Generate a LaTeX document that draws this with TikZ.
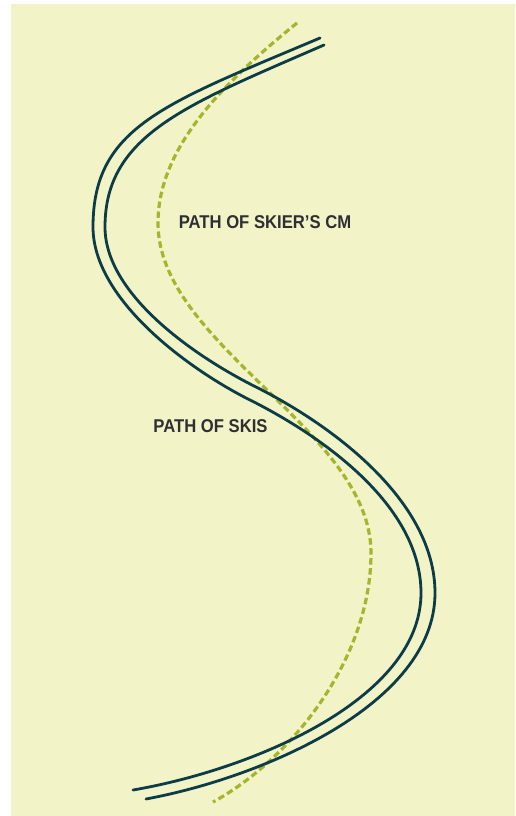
\documentclass[tikz,border=0pt]{standalone}
\usepackage{fontspec}
\setmainfont{Liberation Sans}
\newfontfamily\labelfont[FakeStretch=0.9]{Liberation Sans}
\definecolor{paper}{HTML}{F2F3C6}
\definecolor{skiline}{HTML}{0C3C48}
\definecolor{cmpath}{HTML}{A7B42D}
\definecolor{labeltext}{HTML}{2E2E33}

\begin{document}
\begin{tikzpicture}[x=1pt,y=-1pt,
  ski/.style={skiline,line width=2.8pt,line cap=round},
  cmline/.style={cmpath,line width=3.2pt,dash pattern=on 6.5pt off 3.5pt},
  lbl/.style={labeltext,inner sep=0pt,font=\labelfont\bfseries\fontsize{18.5}{20}\selectfont}]
\useasboundingbox (0,0) rectangle (515,816);
\fill[paper] (11,4) rectangle (515,816);
% path of the centre of mass
\draw[cmline] (297,23) .. controls (219,86) and (158,150) .. (158,223)
  .. controls (158,345) and (371,430) .. (371,553)
  .. controls (371,660) and (290,760) .. (213,802);
% the two skis
\draw[ski] (320,38) .. controls (164,104) and (93,127) .. (93,227)
  .. controls (93,300) and (190,370) .. (250,400)
  .. controls (310,430) and (421,500) .. (421,593)
  .. controls (421,700) and (250,770) .. (133,790);
\draw[ski] (324,45) .. controls (186,105) and (105,135) .. (105,227)
  .. controls (105,295) and (196,357) .. (256,387)
  .. controls (330,424) and (435,500) .. (435,593)
  .. controls (435,705) and (260,778) .. (146,799);
\node[lbl] (cm) at (265,222.5) {PATH OF SKIER’S CM};
\node[lbl] (skis) at (210.5,426) {PATH OF SKIS};
\end{tikzpicture}
\end{document}
